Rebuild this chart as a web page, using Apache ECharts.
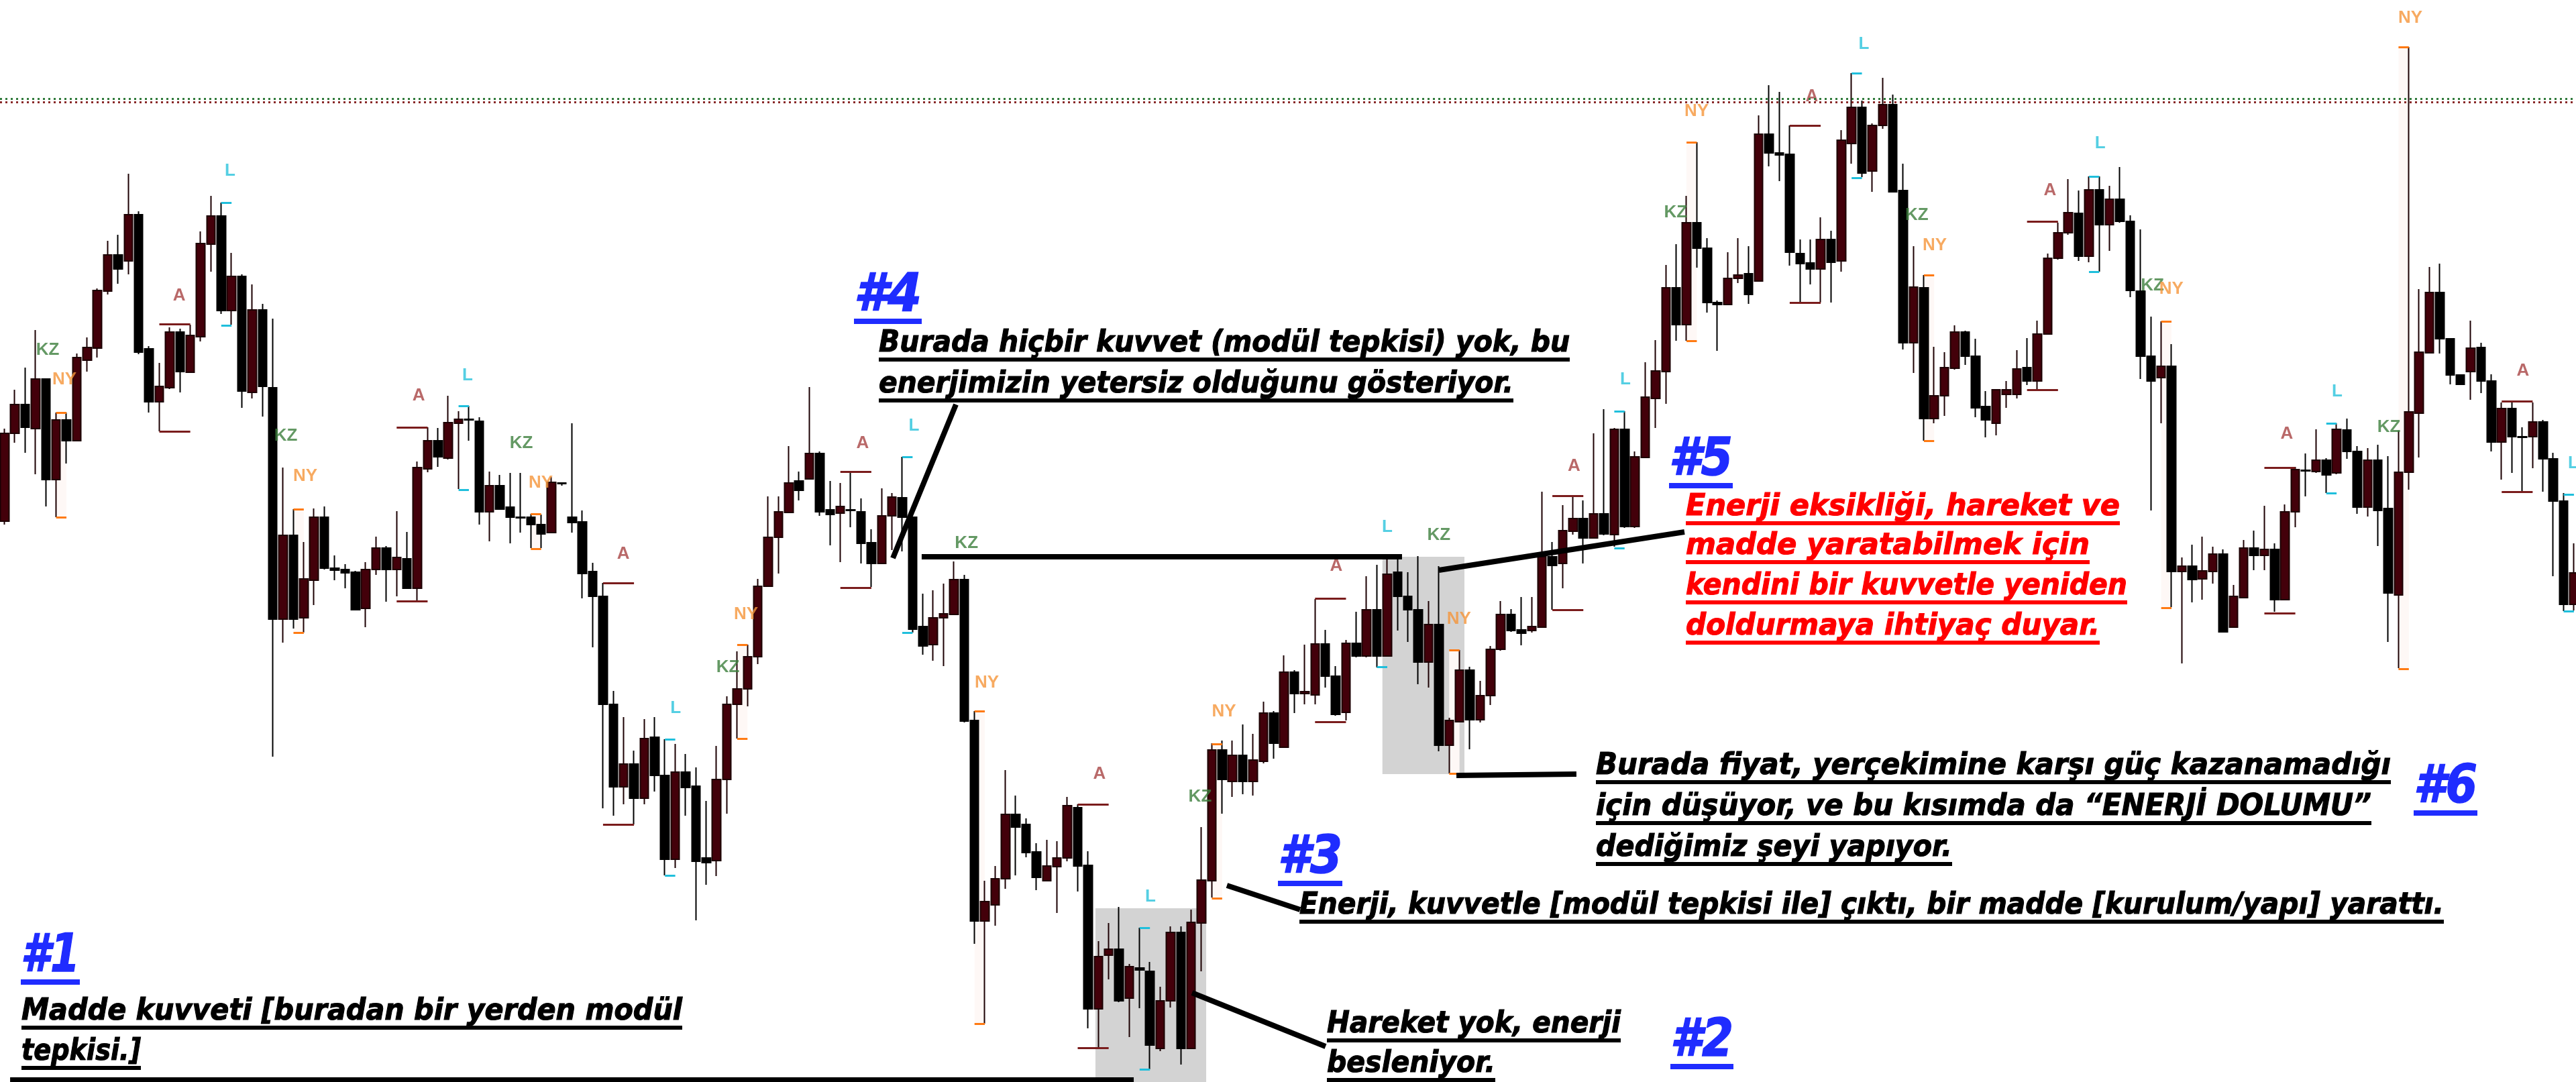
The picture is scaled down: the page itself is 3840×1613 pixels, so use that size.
<!DOCTYPE html>
<html>
<head>
<meta charset="utf-8">
<title>Enerji - kuvvet - madde</title>
<script src="https://cdn.jsdelivr.net/npm/echarts/dist/echarts.min.js"></script>
<style>
  html, body { margin: 0; padding: 0; background: #fff; }
  #chart { width: 3840px; height: 1613px; }
</style>
</head>
<body>
<div id="chart"></div>
<script>
// candles, read left to right (price units)
const opens = [
  823, 954, 997, 961, 1035, 885, 974, 943, 1063, 1081,
  1166, 1220, 1211, 1280, 1080, 1001, 1022, 1105, 1045, 1098,
  1236, 1278, 1137, 1188, 1015, 1138, 1022, 677, 802, 679,
  735, 829, 753, 751, 747, 693, 751, 783, 751, 767,
  723, 901, 943, 917, 969, 975, 972, 837, 876, 844,
  829, 829, 818, 806, 880, 829, 822, 748, 711, 550,
  427, 461, 410, 501, 444, 319, 449, 428, 321, 317,
  438, 550, 573, 621, 726, 799, 836, 883, 886, 924,
  840, 835, 840, 837, 791, 760, 831, 858, 829, 666,
  639, 679, 684, 736, 526, 227, 251, 290, 386, 371,
  330, 287, 308, 321, 396, 310, 96, 176, 185, 112,
  157, 152, 37, 108, 210, 37, 224, 287, 482, 435,
  474, 435, 465, 537, 486, 598, 566, 564, 640, 592,
  538, 641, 622, 691, 622, 747, 711, 691, 613, 669,
  489, 524, 601, 527, 563, 632, 684, 661, 660, 665,
  770, 760, 808, 827, 798, 834, 803, 960, 815, 918,
  1006, 1046, 1171, 1116, 1268, 1230, 1149, 1146, 1185, 1192,
  1181, 1400, 1372, 1370, 1222, 1208, 1199, 1243, 1211, 1386,
  1440, 1345, 1413, 1444, 1316, 1089, 1171, 976, 1010, 1051,
  1105, 1069, 994, 969, 1012, 1012, 1052, 1032, 1102, 1215,
  1253, 1282, 1218, 1317, 1265, 1303, 1270, 1166, 1069, 1037,
  1054, 748, 756, 737, 748, 774, 665, 709, 783, 772,
  781, 706, 837, 899, 897, 914, 895, 959, 927, 844,
  914, 842, 713, 896, 984, 1074, 1164, 1095, 1041, 1046,
  1082, 1032, 941, 991, 949, 949, 971, 916, 853, 699
];
const closes = [
  954, 997, 963, 1035, 885, 974, 943, 1067, 1082, 1167,
  1220, 1199, 1280, 1075, 1001, 1024, 1105, 1046, 1100, 1237,
  1278, 1137, 1188, 1017, 1138, 1024, 677, 802, 677, 737,
  829, 753, 750, 746, 691, 751, 783, 751, 769, 723,
  903, 943, 919, 970, 975, 974, 837, 876, 841, 829,
  828, 818, 804, 881, 879, 821, 745, 711, 550, 427,
  461, 410, 499, 444, 319, 449, 426, 316, 314, 438,
  550, 573, 621, 726, 799, 837, 880, 869, 924, 837,
  833, 845, 839, 790, 760, 831, 859, 829, 662, 637,
  679, 685, 736, 525, 227, 256, 290, 386, 367, 329,
  292, 309, 321, 399, 309, 96, 174, 185, 108, 159,
  154, 42, 108, 210, 37, 225, 288, 482, 438, 474,
  435, 467, 537, 492, 598, 566, 569, 640, 592, 535,
  641, 622, 691, 622, 744, 711, 691, 613, 669, 489,
  526, 601, 527, 563, 632, 684, 660, 656, 666, 770,
  757, 809, 827, 798, 834, 804, 960, 815, 919, 1008,
  1047, 1171, 1116, 1268, 1230, 1149, 1146, 1185, 1190, 1161,
  1400, 1372, 1369, 1224, 1207, 1199, 1243, 1209, 1391, 1440,
  1342, 1413, 1444, 1314, 1089, 1172, 976, 1010, 1052, 1105,
  1069, 992, 974, 1019, 1019, 1050, 1032, 1102, 1215, 1253,
  1283, 1218, 1317, 1265, 1303, 1270, 1167, 1069, 1032, 1054,
  748, 756, 736, 749, 774, 658, 711, 783, 772, 781,
  706, 837, 900, 898, 914, 892, 960, 927, 844, 914,
  839, 716, 896, 986, 1075, 1164, 1095, 1041, 1027, 1081,
  1032, 941, 991, 949, 948, 971, 916, 853, 699, 746
];
const lows = [
  818, 940, 925, 893, 845, 829, 909, 943, 1046, 1067,
  1161, 1177, 1191, 1072, 985, 957, 1020, 1015, 1045, 1091,
  1195, 1132, 1116, 992, 1006, 979, 472, 642, 663, 657,
  698, 751, 735, 723, 691, 665, 743, 703, 711, 723,
  705, 896, 904, 915, 871, 943, 818, 793, 840, 790,
  806, 783, 783, 805, 876, 806, 708, 635, 395, 384,
  401, 371, 401, 420, 295, 306, 384, 228, 281, 294,
  387, 499, 547, 610, 725, 745, 835, 854, 885, 831,
  787, 762, 814, 760, 725, 759, 780, 778, 657, 624,
  615, 607, 684, 523, 193, 74, 220, 275, 295, 322,
  273, 287, 239, 316, 271, 67, 38, 140, 106, 54,
  97, 6, 33, 98, 13, 36, 152, 262, 387, 412,
  416, 414, 462, 469, 486, 537, 550, 550, 575, 533,
  526, 620, 620, 605, 621, 660, 643, 580, 575, 480,
  447, 523, 483, 523, 549, 630, 658, 638, 657, 665,
  691, 723, 803, 760, 797, 802, 785, 813, 813, 918,
  962, 998, 1092, 1092, 1201, 1134, 1077, 1145, 1178, 1147,
  1180, 1352, 1330, 1204, 1149, 1176, 1149, 1149, 1195, 1356,
  1336, 1314, 1408, 1313, 1079, 1044, 943, 969, 980, 1049,
  1056, 978, 948, 951, 992, 1006, 1026, 1020, 1102, 1213,
  1250, 1211, 1209, 1195, 1226, 1268, 1157, 1035, 839, 969,
  695, 611, 702, 706, 730, 658, 664, 709, 750, 750,
  688, 705, 814, 860, 895, 865, 893, 916, 834, 830,
  786, 643, 604, 870, 918, 1073, 1073, 1027, 1027, 1004,
  1014, 927, 885, 895, 867, 902, 867, 741, 689, 690
];
const highs = [
  961, 1019, 1052, 1108, 1035, 985, 985, 1073, 1097, 1170,
  1241, 1250, 1341, 1285, 1084, 1059, 1112, 1110, 1116, 1255,
  1308, 1298, 1223, 1191, 1176, 1147, 1125, 903, 841, 792,
  842, 845, 772, 759, 749, 762, 800, 786, 838, 807,
  912, 963, 962, 1010, 987, 995, 978, 897, 892, 895,
  895, 834, 833, 889, 881, 969, 839, 761, 731, 570,
  531, 481, 528, 531, 498, 491, 476, 456, 406, 488,
  562, 629, 639, 737, 860, 860, 935, 897, 1023, 927,
  883, 880, 897, 857, 811, 872, 865, 919, 829, 715,
  720, 730, 763, 743, 540, 287, 309, 452, 414, 380,
  343, 348, 346, 412, 401, 331, 197, 224, 248, 163,
  217, 166, 129, 219, 219, 244, 367, 492, 496, 496,
  520, 506, 554, 540, 623, 601, 639, 707, 661, 607,
  646, 688, 741, 758, 768, 768, 747, 771, 704, 756,
  530, 631, 606, 585, 637, 704, 692, 710, 710, 867,
  792, 847, 861, 854, 954, 990, 962, 987, 927, 1060,
  1093, 1205, 1236, 1308, 1388, 1245, 1152, 1224, 1245, 1233,
  1428, 1473, 1463, 1413, 1243, 1243, 1276, 1256, 1406, 1491,
  1450, 1416, 1484, 1459, 1356, 1233, 1190, 1083, 1075, 1115,
  1107, 1095, 1017, 1019, 1032, 1078, 1096, 1122, 1222, 1268,
  1333, 1316, 1337, 1337, 1323, 1351, 1279, 1258, 1128, 1121,
  1087, 769, 788, 800, 785, 781, 728, 795, 809, 846,
  790, 848, 904, 924, 960, 917, 969, 976, 935, 932,
  937, 920, 958, 1530, 1169, 1202, 1207, 1096, 1042, 1122,
  1089, 1042, 1000, 1000, 963, 1000, 974, 925, 865, 790
];

// session tags: [session, bar position, price]
const sessionLabels = [
  ['KZ', 4.18, 1078], ['NY', 5.81, 1034], ['A', 16.92, 1159], ['L', 21.86, 1345],
  ['KZ', 27.26, 950], ['NY', 29.14, 890], ['A', 40.13, 1010], ['L', 44.87, 1040],
  ['KZ', 50.08, 939], ['NY', 51.96, 880], ['A', 59.96, 774], ['L', 65.03, 544],
  ['KZ', 70.1, 605], ['NY', 71.85, 684], ['A', 83.16, 939], ['L', 88.14, 965],
  ['KZ', 93.22, 790], ['NY', 95.19, 582], ['A', 106.11, 446], ['L', 111.05, 263],
  ['KZ', 115.86, 412], ['NY', 118.17, 539], ['A', 129.06, 756], ['L', 134.0, 814],
  ['KZ', 139.0, 802], ['NY', 140.95, 677], ['A', 152.1, 905], ['L', 157.08, 1034],
  ['KZ', 161.95, 1283], ['NY', 163.97, 1434], ['A', 175.15, 1456], ['L', 180.19, 1534],
  ['KZ', 185.32, 1279], ['NY', 187.05, 1234], ['A', 198.23, 1316], ['L', 203.08, 1386],
  ['KZ', 208.15, 1174], ['NY', 209.99, 1169], ['A', 221.17, 953], ['L', 226.06, 1016],
  ['KZ', 231.06, 963], ['NY', 233.14, 1573], ['A', 244.06, 1047], ['L', 248.93, 909]
];

// session high / low ticks: [session, from bar, to bar, high, low]
const sessionBrackets = [
  ['NY', 5, 6, 985, 829], ['A', 15, 18, 1117, 957], ['L', 21, 22, 1298, 1115],
  ['NY', 28, 29, 841, 657], ['A', 38, 41, 963, 704], ['L', 44, 45, 995, 870],
  ['NY', 51, 52, 834, 782], ['A', 58, 61, 731, 371], ['L', 64, 65, 498, 295],
  ['NY', 71, 72, 639, 499], ['A', 81, 84, 897, 724], ['L', 87, 88, 919, 657],
  ['NY', 94, 95, 540, 74], ['A', 104, 107, 401, 38], ['L', 110, 111, 217, 6],
  ['NY', 117, 118, 491, 261], ['A', 127, 130, 708, 524], ['L', 133, 134, 768, 606],
  ['NY', 140, 141, 631, 447], ['A', 150, 153, 861, 691], ['L', 156, 157, 987, 783],
  ['NY', 163, 164, 1388, 1092], ['A', 173, 176, 1413, 1149], ['L', 179, 180, 1491, 1335],
  ['NY', 186, 187, 1190, 943], ['A', 196, 199, 1270, 1019], ['L', 202, 203, 1337, 1195],
  ['NY', 209, 210, 1121, 694], ['A', 219, 222, 903, 686], ['L', 225, 226, 969, 865],
  ['NY', 232, 233, 1530, 603], ['A', 242, 245, 1002, 867], ['L', 248, 249, 863, 689]
];

// grey zones: [from bar, to bar, low, high]
const greyZones = [
  [105.72, 116.45, -13, 246],
  [133.53, 141.48, 446, 770]
];

// dotted levels near the top
const levelGreen = 1453;
const levelRed = 1448;

// callout lines: [[bar, price], [bar, price], width]
const callouts = [
  [[0.54, -9], [109.43, -9], 7],
  [[115.08, 120], [128.02, 40], 8],
  [[118.46, 280], [125.55, 244], 8],
  [[92.2, 997], [86.09, 768], 8],
  [[88.88, 770], [135.43, 770], 8],
  [[139.0, 750], [162.8, 807], 8],
  [[140.7, 444], [152.33, 446], 8]
];

const BLUE = '#1f2cff';
const RED = '#ff0000';
const BLACK = '#000000';

// text notes: text, left, baseline, right edge, colour, size
const notes = [
  ['#4', 1273, 470, 1374, BLUE, 78],
  ['Burada hiçbir kuvvet (modül tepkisi) yok, bu', 1310, 528, 2340, BLACK, 45],
  ['enerjimizin yetersiz olduğunu gösteriyor.', 1310, 589, 2256, BLACK, 45],
  ['#1', 31, 1455, 119, BLUE, 78],
  ['Madde kuvveti [buradan bir yerden modül', 32, 1524, 1017, BLACK, 45],
  ['tepkisi.]', 32, 1584, 210, BLACK, 45],
  ['#3', 1905, 1308, 2001, BLUE, 78],
  ['Enerji, kuvvetle [modül tepkisi ile] çıktı, bir madde [kurulum/yapı] yarattı.', 1937, 1366, 3643, BLACK, 45],
  ['#2', 2490, 1581, 2584, BLUE, 78],
  ['Hareket yok, enerji', 1978, 1543, 2416, BLACK, 45],
  ['besleniyor.', 1978, 1602, 2229, BLACK, 45],
  ['#5', 2488, 715, 2583, BLUE, 78],
  ['Enerji eksikliği, hareket ve', 2513, 772, 3160, RED, 45],
  ['madde yaratabilmek için', 2513, 830, 3115, RED, 45],
  ['kendini bir kuvvetle yeniden', 2513, 890, 3171, RED, 45],
  ['doldurmaya ihtiyaç duyar.', 2513, 950, 3130, RED, 45],
  ['#6', 3598, 1203, 3693, BLUE, 78],
  ['Burada fiyat, yerçekimine karşı güç kazanamadığı', 2379, 1158, 3564, BLACK, 45],
  ['için düşüyor, ve bu kısımda da “ENERJİ DOLUMU”', 2379, 1219, 3535, BLACK, 45],
  ['dediğimiz şeyi yapıyor.', 2379, 1280, 2910, BLACK, 45]
];

const sessionColors = {
  KZ: { text: '#3d7f3d', line: '#2f6f2f' },
  NY: { text: '#f5953a', line: '#ff7a12' },
  A: { text: '#a84444', line: '#7a1c1c' },
  L: { text: '#2bc3dc', line: '#1fbfdc' }
};

const candles = opens.map((o, i) => [i, o, closes[i], lows[i], highs[i]]);

// pale NY session columns
const nyShades = sessionBrackets
  .filter(b => b[0] === 'NY')
  .map(b => [{ xAxis: b[1], yAxis: b[4] }, { xAxis: b[2], yAxis: b[3] }]);

const sessionSeries = Object.keys(sessionColors).map(name => {
  const c = sessionColors[name];
  const segs = [];
  sessionBrackets.filter(b => b[0] === name).forEach(b => {
    segs.push([{ coord: [b[1], b[3]] }, { coord: [b[2], b[3]] }]);
    segs.push([{ coord: [b[1], b[4]] }, { coord: [b[2], b[4]] }]);
  });
  return {
    name: name,
    type: 'scatter',
    z: 4,
    symbolSize: 1,
    itemStyle: { color: 'rgba(0,0,0,0)' },
    data: sessionLabels.filter(s => s[0] === name).map(s => [s[1], s[2]]),
    label: {
      show: true,
      position: 'inside',
      formatter: name,
      color: c.text,
      fontSize: 26,
      fontWeight: 'bold',
      fontFamily: '"Liberation Sans", Arial, sans-serif'
    },
    markLine: {
      silent: true,
      symbol: ['none', 'none'],
      label: { show: false },
      lineStyle: { color: c.line, width: 3, type: 'solid' },
      data: segs
    }
  };
});

const chart = echarts.init(document.getElementById('chart'), null, { renderer: 'canvas' });

// texts with underline, stretched to the measured width
const measurer = document.createElement('canvas').getContext('2d');
const textGraphics = [];
notes.forEach(n => {
  const [text, left, base, right, color, size] = n;
  const font = 'italic bold ' + size + 'px "DejaVu Sans"';
  measurer.font = font;
  const w = measurer.measureText(text).width;
  const isTag = text.charAt(0) === '#';
  textGraphics.push({
    type: 'text',
    x: left,
    y: base - 0.346 * size,
    scaleX: (right - left) / w,
    z: 100,
    style: {
      text: text,
      font: font,
      fill: color,
      stroke: color,
      lineWidth: isTag ? 1.5 : 1.2,
      textAlign: 'left',
      textVerticalAlign: 'middle',
      align: 'left',
      verticalAlign: 'middle'
    }
  });
  textGraphics.push({
    type: 'rect',
    z: 100,
    shape: { x: left, y: base + 5, width: right - left, height: isTag ? 8 : 6 },
    style: { fill: color }
  });
});

const option = {
  animation: false,
  backgroundColor: '#ffffff',
  grid: { left: 0, right: 0, top: 0, bottom: 0 },
  xAxis: {
    type: 'value',
    min: -0.44,
    max: 249.2,
    show: false,
    splitLine: { show: false }
  },
  yAxis: {
    type: 'value',
    min: -13,
    max: 1600,
    show: false,
    splitLine: { show: false }
  },
  series: [
    {
      name: 'zones',
      type: 'line',
      z: 1,
      data: [],
      markArea: {
        silent: true,
        data: greyZones.map(g => [
          { xAxis: g[0], yAxis: g[2], itemStyle: { color: '#d3d3d3' } },
          { xAxis: g[1], yAxis: g[3] }
        ]).concat(nyShades.map(s => [
          Object.assign({ itemStyle: { color: '#fef8f6' } }, s[0]), s[1]
        ]))
      },
      markLine: {
        silent: true,
        symbol: ['none', 'none'],
        label: { show: false },
        data: [
          { yAxis: levelGreen, lineStyle: { color: '#2f7a3a', width: 3, type: [3, 5] } },
          { yAxis: levelRed, lineStyle: { color: '#8a2a2a', width: 3, type: [3, 5] } }
        ]
      }
    },
    {
      name: 'price',
      type: 'candlestick',
      z: 3,
      barWidth: 13,
      encode: { x: 0, y: [1, 2, 3, 4] },
      data: candles,
      itemStyle: {
        color: '#43000a',
        color0: '#000000',
        borderColor: '#1c0003',
        borderColor0: '#000000',
        borderWidth: 2
      }
    },
    ...sessionSeries,
    {
      name: 'callouts',
      type: 'line',
      z: 6,
      data: [],
      markLine: {
        silent: true,
        symbol: ['none', 'none'],
        label: { show: false },
        data: callouts.map(c => [
          { coord: c[0], lineStyle: { color: '#000', width: c[2], type: 'solid' } },
          { coord: c[1] }
        ])
      }
    }
  ],
  graphic: textGraphics
};

chart.setOption(option);
</script>
</body>
</html>
